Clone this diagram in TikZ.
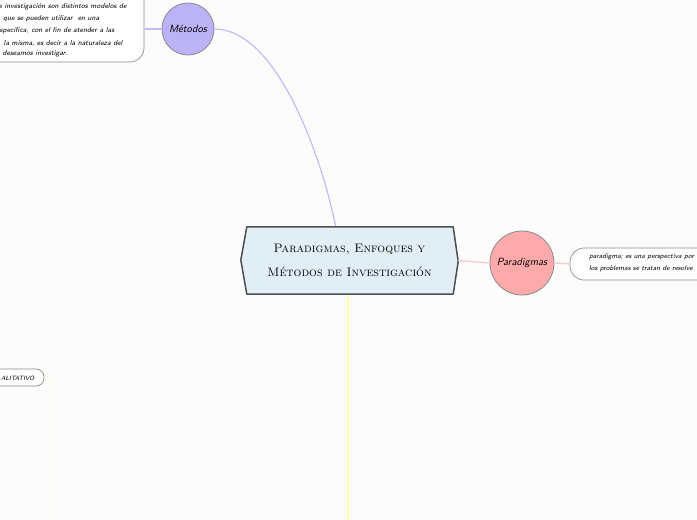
\documentclass[tikz,border=0pt]{standalone}
\usetikzlibrary{calc}
\definecolor{bgc}{HTML}{FCFCFC}
\definecolor{metfill}{HTML}{BCB3F6}
\definecolor{metline}{HTML}{C4BBF8}
\definecolor{parfill}{HTML}{FFAAAA}
\definecolor{parline}{HTML}{FFC6C6}
\definecolor{yelline}{HTML}{FFFFB4}
\definecolor{yelfaint}{HTML}{FFFFDC}
\definecolor{cenfill}{HTML}{E1EEF5}
\definecolor{cenline}{HTML}{4A4F52}
\definecolor{boxline}{HTML}{8A8A8A}
\begin{document}
\begin{tikzpicture}[x=1pt,y=-1pt,
  circ/.style={circle,draw=boxline,line width=0.8pt,inner sep=0pt,font=\sffamily\itshape\fontsize{10.5}{12}\selectfont},
  tbox/.style={draw=boxline,line width=0.7pt,fill=white,inner sep=0pt},
  small/.style={anchor=west,inner sep=0pt,font=\sffamily\itshape\fontsize{7.2}{8}\selectfont},
  conn/.style={line width=1.2pt},
  cenfont/.style={font=\scshape\fontsize{12.3}{24}\selectfont}]
\useasboundingbox (0,0) rectangle (697,520);
\fill[bgc] (0,0) rectangle (697,520);
\begin{scope}
\clip (0,0) rectangle (697,520);
% nodes
\node[circ,fill=metfill,minimum size=52pt] (met) at (188,29) {Métodos};
\node[circ,fill=parfill,minimum size=64pt] (par) at (522,263) {Paradigmas};
\node[inner sep=0pt,minimum width=217pt,minimum height=67pt,align=center,cenfont] (cen) at (349.5,260.5)
  {\phantom{Paradigmas, Enfoques y}\\\phantom{Métodos de Investigación}};
% connectors
\draw[conn,metline] (met.east) .. controls (275,29) and (320,150) .. ($(cen.north west)+(95,0)$);
\draw[line width=1.8pt,yelline] ($(cen.south west)+(107,0)$) -- ($(cen.south west)+(107,240)$);
% central hexagon
\fill[cenfill] ($(cen.north west)+(6,0)$) -- ($(cen.north east)+(-5,0)$) -- ($(cen.east)+(0,1)$) -- ($(cen.south east)+(-5,0)$) -- ($(cen.south west)+(6,0)$) -- ($(cen.west)+(0,-0.5)$) -- cycle;
\node[inner sep=0pt,align=center,cenfont] (centxt) at (cen.center)
  {Paradigmas, Enfoques y\\Métodos de Investigación};
\draw[cenline,line width=1.5pt,line join=round] ($(cen.north west)+(6,0)$) -- ($(cen.north east)+(-5,0)$) -- ($(cen.east)+(0,1)$) -- ($(cen.south east)+(-5,0)$) -- ($(cen.south west)+(6,0)$) -- ($(cen.west)+(0,-0.5)$) -- cycle;
% text boxes
\node[tbox,rounded corners=14pt,minimum width=184pt,minimum height=82pt] (mtext) at (52,21) {};
\node[tbox,rounded corners=14pt,minimum width=190pt,minimum height=32pt] (ptext) at (665,264) {};
\node[tbox,rounded corners=8pt,minimum width=84pt,minimum height=17pt] (ctext) at (2,377.5) {};
\draw[conn,metline] (met.west) -- (met.west -| mtext.east);
\draw[conn,parline] (cen.east) -- (par.west);
\draw[conn,parline] (par.east) -- (ptext.west);
\coordinate (cdown) at (52,520);
\draw[line width=1pt,yelfaint] (ctext.east) .. controls (52,377.5) .. (52,392) -- (cdown);
% texts
\node[small] (m1) at (-1.5,7) {e investigación son distintos modelos de};
\node[small] (m2) at (3,19) {que se pueden utilizar\ \ en una};
\node[small] (m3) at (-0.5,31) {specífica, con el fin de atender a las};
\node[small] (m4) at (3.5,43) {la misma, es decir a la naturaleza del};
\node[small] (m5) at (2.5,54) {deseamos investigar.};
\node[small,font=\sffamily\itshape\fontsize{6.9}{8}\selectfont] (p1) at (589,257) {paradigma; es una perspectiva por};
\node[small,font=\sffamily\itshape\fontsize{6.9}{8}\selectfont] (p2) at (589,269) {los problemas se tratan de resolve};
\node[small,font=\sffamily\itshape\fontsize{6.2}{8}\selectfont] (c1) at (1,378) {ALITATIVO};
\end{scope}
\end{tikzpicture}
\end{document}
